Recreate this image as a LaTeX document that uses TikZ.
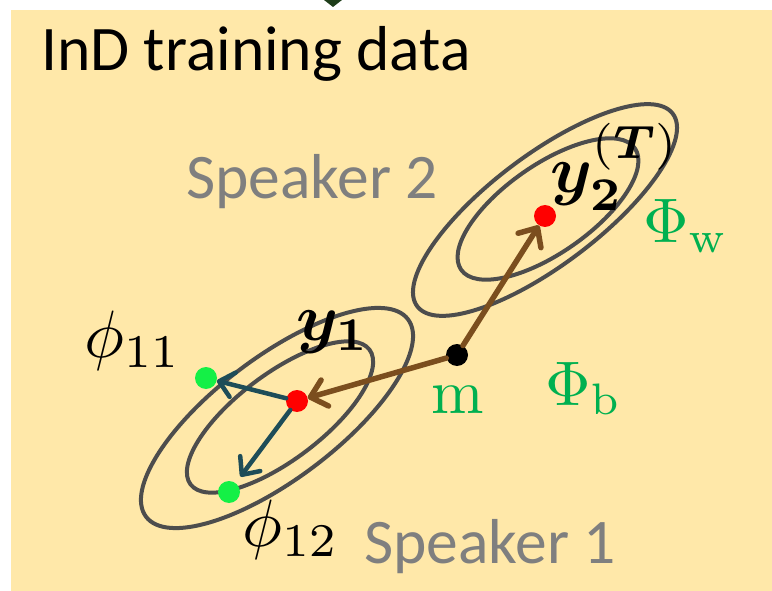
\documentclass[tikz,border=0pt]{standalone}
\usepackage{bm}
\usepackage[no-math]{fontspec}
\newfontfamily\carl{Carlito}
\usetikzlibrary{arrows.meta}
\definecolor{bgyel}{HTML}{FFE8A9}
\definecolor{txtgrey}{HTML}{7F7F7F}
\definecolor{mgreen}{HTML}{00B050}
\definecolor{arrbrown}{HTML}{7B4E1E}
\definecolor{arrteal}{HTML}{1E4D58}
\definecolor{ellgrey}{HTML}{4D4D4D}
\definecolor{dotgreen}{HTML}{14F046}
\definecolor{tipgreen}{HTML}{1E3D1A}
\newcommand{\hugemath}[1]{\scalebox{6.3}{$#1$}}
\newcommand{\hugermath}[1]{\scalebox{6.7}{$#1$}}
\begin{document}
\begin{tikzpicture}[x=1pt,y=-1pt,
  lbl/.style={inner sep=0pt, anchor=base west},
  mathlbl/.style={lbl},
  txt/.style={lbl, font=\carl\fontsize{63.5}{70}\selectfont},
  dot/.style={circle, inner sep=0pt, minimum size=22pt},
  ell/.style={draw=ellgrey, line width=4pt},
  brownarr/.style={draw=arrbrown, line width=5.5pt, line cap=round, -{Straight Barb[length=15pt,width=27pt,round]}},
  tealarr/.style={draw=arrteal, line width=4.5pt, line cap=round, -{Straight Barb[length=14pt,width=25pt,round]}}]
\useasboundingbox (0,0) rectangle (772,591);
\fill[white] (0,0) rectangle (772,591);
\fill[bgyel] (11,10) rectangle (772,591);
\fill[tipgreen] (324,0) -- (342,0) -- (333,7) -- cycle;
% ellipses
\draw[ell, rotate around={37:(545,210)}] (545,210) ellipse [x radius=160, y radius=55];
\draw[ell, rotate around={35:(548,209)}] (548,209) ellipse [x radius=106, y radius=44];
\draw[ell, rotate around={37:(277,418)}] (277,418) ellipse [x radius=164, y radius=61];
\draw[ell, rotate around={37:(280,417)}] (280,417) ellipse [x radius=112, y radius=43];
% dots
\node[dot, fill=black] (m) at (457,355) {};
\node[dot, fill=red] (y2) at (545,216) {};
\node[dot, fill=red] (y1) at (297,401) {};
\node[dot, fill=dotgreen] (g11) at (206,378) {};
\node[dot, fill=dotgreen] (g12) at (229,492) {};
% arrows
\draw[brownarr] (m) -- (y2);
\draw[brownarr] (m) -- (y1);
\draw[tealarr] (y1) -- (g11);
\draw[tealarr, shorten >=8pt] (y1) -- (g12);
% texts
\node[txt] (title) at (41,71) {InD training data};
\node[txt, text=txtgrey] (sp2) at (186,199) {Speaker 2};
\node[txt, text=txtgrey] (sp1) at (364,563) {Speaker 1};
\node[mathlbl, anchor=base, text=mgreen] (mlab) at (458,413) {\hugemath{\mathrm{m}}};
\node[mathlbl, text=mgreen] (phib) at (545,405) {\hugemath{\Phi_{\mathrm{b}}}};
\node[mathlbl, text=mgreen] (phiw) at (643,243) {\hugemath{\Phi_{\mathrm{w}}}};
\node[mathlbl] (p11) at (84,357) {\hugermath{\phi_{11}}};
\node[mathlbl] (p12) at (242,546) {\hugermath{\phi_{12}}};
\node[mathlbl] (y1lab) at (296,340) {\hugermath{\bm{y}_{\bm{1}}}};
\node[mathlbl] (y2lab) at (550,193) {\hugermath{\bm{y}_{\bm{2}}^{(\bm{T})}}};
\end{tikzpicture}
\end{document}
